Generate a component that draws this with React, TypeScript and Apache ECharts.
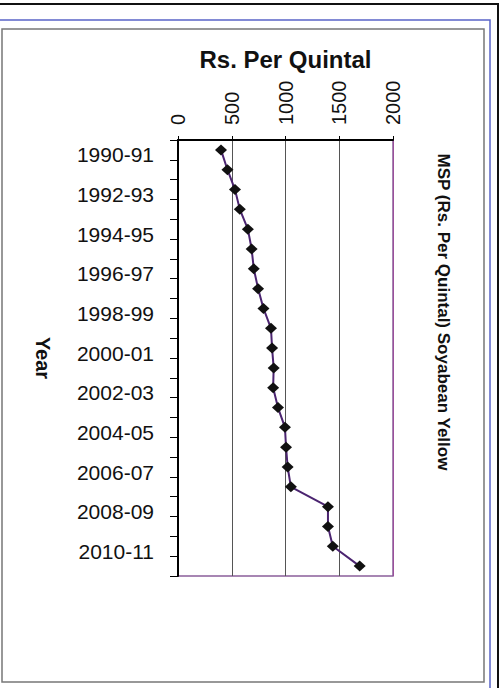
import React, { useEffect, useRef } from "react";
import * as echarts from "echarts";

const years = [
  "1990-91", "1991-92", "1992-93", "1993-94", "1994-95", "1995-96",
  "1996-97", "1997-98", "1998-99", "1999-00", "2000-01", "2001-02",
  "2002-03", "2003-04", "2004-05", "2005-06", "2006-07", "2007-08",
  "2008-09", "2009-10", "2010-11", "2011-12",
];
const msp = [
  400, 460, 530, 575, 650, 685, 705, 745, 795, 865, 875, 890,
  885, 930, 995, 1005, 1020, 1050, 1395, 1395, 1440, 1690,
];
const valueTicks = [0, 500, 1000, 1500, 2000];
const titleText = "MSP (Rs. Per Quintal) Soyabean Yellow";
const xName = "Rs. Per Quintal";
const yName = "Year";

const FONT = "'Liberation Sans', Arial, Helvetica, sans-serif";

export default function App() {
  const ref = useRef<HTMLDivElement>(null);
  useEffect(() => {
    if (!ref.current) return;
    const chart = echarts.init(ref.current, undefined, { renderer: "svg" });
    chart.setOption({
      animation: false,
      backgroundColor: "#ffffff",
      textStyle: { fontFamily: FONT },
      grid: {
        left: 178,
        right: 108,
        top: 140,
        height: 436,
        show: true,
        borderColor: "#8a5f9a",
        borderWidth: 1.5,
        backgroundColor: "transparent",
      },
      xAxis: {
        type: "value",
        position: "top",
        min: valueTicks[0],
        max: valueTicks[valueTicks.length - 1],
        interval: 500,
        name: xName,
        nameLocation: "middle",
        nameGap: 69,
        nameTextStyle: { fontSize: 24, fontWeight: "bold", color: "#111", fontFamily: FONT },
        axisLine: { show: true, lineStyle: { color: "#000", width: 2 } },
        axisTick: { show: true, length: 4, lineStyle: { color: "#000" } },
        axisLabel: {
          rotate: -90,
          fontSize: 20,
          color: "#111",
          margin: 15,
          fontFamily: FONT,
          formatter: (v: number) => String(v),
        },
        splitLine: {
          show: true,
          lineStyle: { color: ["#000", "#555", "#555", "#555", "#9b4f9b"], width: 1 },
        },
      },
      yAxis: {
        type: "category",
        data: years,
        inverse: true,
        name: yName,
        nameLocation: "middle",
        nameRotate: -90,
        nameGap: 125,
        nameTextStyle: { fontSize: 20, fontWeight: "bold", color: "#111", fontFamily: FONT },
        axisLine: { show: true, lineStyle: { color: "#000", width: 2 } },
        axisTick: { show: true, interval: 0, length: 8, lineStyle: { color: "#000" } },
        axisLabel: {
          interval: 1,
          fontSize: 21,
          color: "#111",
          margin: 24,
          fontFamily: FONT,
          verticalAlign: "top",
          lineHeight: 10,
        },
        splitLine: { show: false },
      },
      series: [
        {
          type: "line",
          data: msp,
          symbol: "diamond",
          symbolSize: [12, 11],
          itemStyle: { color: "#111" },
          lineStyle: { color: "#4b2470", width: 2 },
          z: 5,
        },
      ],
      graphic: [
        {
          type: "rect",
          shape: { x: -4, y: 4, width: 502, height: 700 },
          style: { fill: "none", stroke: "#111", lineWidth: 2 },
          silent: true,
        },
        {
          type: "polyline",
          shape: { points: [[0, 20], [490, 20], [490, 690]] },
          style: { fill: "none", stroke: "#5a64c8", lineWidth: 1.5 },
          silent: true,
        },
        {
          type: "rect",
          shape: { x: 2, y: 29, width: 482, height: 653 },
          style: { fill: "none", stroke: "#777", lineWidth: 1.5 },
          silent: true,
        },
        {
          type: "text",
          x: 443,
          y: 312,
          rotation: -Math.PI / 2,
          style: {
            text: titleText,
            fontSize: 17,
            fontWeight: "bold",
            fontFamily: FONT,
            fill: "#111",
            align: "center",
            verticalAlign: "middle",
          },
          silent: true,
        },
      ],
    });
    return () => chart.dispose();
  }, []);
  return (
    <div
      ref={ref}
      style={{ position: "absolute", left: 0, top: 0, width: 501, height: 688, background: "#fff" }}
    />
  );
}
